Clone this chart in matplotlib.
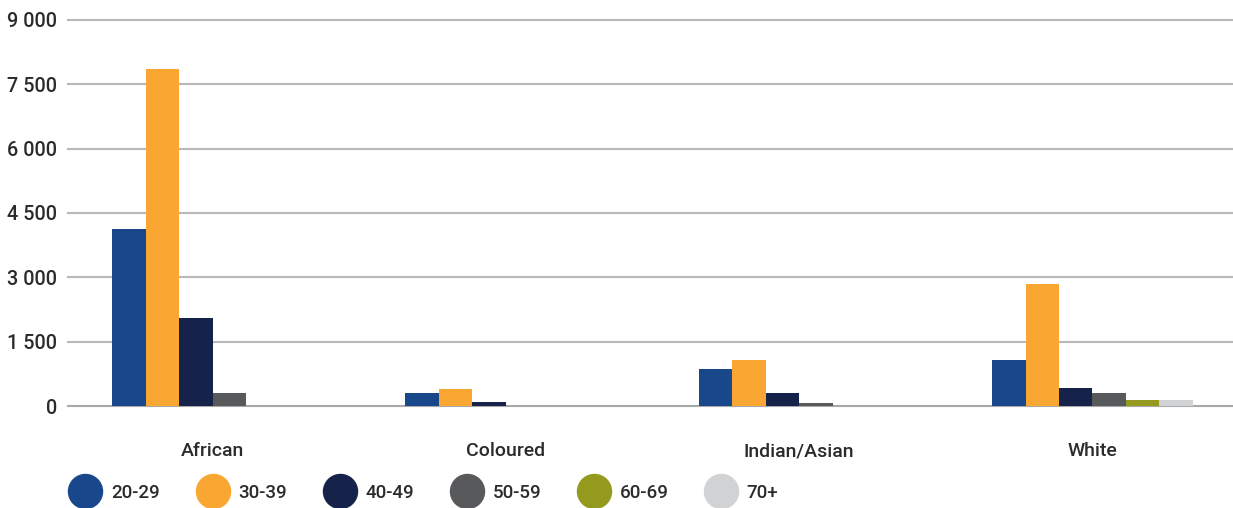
import matplotlib
matplotlib.use("Agg")
import matplotlib.pyplot as plt
from matplotlib.lines import Line2D
from matplotlib import font_manager
import numpy as np

# Data: population groups by age band
categories = ["African", "Coloured", "Indian/Asian", "White"]
age_bands = ["20-29", "30-39", "40-49", "50-59", "60-69", "70+"]
values_20_29 = [4130, 300, 860, 1070]
values_30_39 = [7860, 395, 1070, 2850]
values_40_49 = [2050, 95, 300, 420]
values_50_59 = [300, 0, 70, 300]
values_60_69 = [0, 0, 0, 140]
values_70_plus = [0, 0, 0, 140]
series = [values_20_29, values_30_39, values_40_49, values_50_59, values_60_69, values_70_plus]
colors = ["#19478c", "#f9a633", "#15234b", "#58595b", "#939a1e", "#d1d2d4"]

y_ticks = [0, 1500, 3000, 4500, 6000, 7500, 9000]
y_tick_labels = ["0", "1 500", "3 000", "4 500", "6 000", "7 500", "9 000"]

# Prefer a medium-weight sans face when one is installed
faces = [(f.name, f.weight) for f in font_manager.fontManager.ttflist]
weight = "normal"
family = "Roboto"
for name, w in faces:
    if name == "Roboto" and w in (500, "medium"):
        weight = "medium"
        break
else:
    for name, w in faces:
        if name in ("Open Sans", "Lato") and w in (600, "semibold", "demibold"):
            family, weight = name, "semibold"
            break
    else:
        weight = "bold"

plt.rcParams["font.family"] = [family, "DejaVu Sans"]
plt.rcParams["font.weight"] = weight
text_color = "#2b2b2b"

fig = plt.figure(figsize=(12.33, 5.08), dpi=100)
ax = fig.add_axes([68 / 1233, 1 - 406 / 508, 1 - 68 / 1233, (406 - 20) / 508])

x = np.arange(len(categories))
bar_w = 0.1142
for j, (vals, col) in enumerate(zip(series, colors)):
    ax.bar(x + (j - 2.5) * bar_w, vals, width=bar_w, color=col, zorder=3, linewidth=0)

ax.set_xlim(-0.4927, 3.479)
ax.set_ylim(0, 9000)
ax.set_yticks(y_ticks)
ax.set_yticklabels(y_tick_labels, fontsize=14.3, color=text_color)
ax.set_xticks(x)
ax.set_xticklabels(categories, fontsize=14, color=text_color)
ax.tick_params(axis="y", length=0, pad=8)
ax.tick_params(axis="x", length=0, pad=26)
for s in ax.spines.values():
    s.set_visible(False)
for t in y_ticks:
    ax.axhline(t, color="#a8a8a8" if t == 0 else "#b8b8b8", lw=1.5, zorder=1, clip_on=False)

handles = [Line2D([], [], linestyle="none", marker="o", markersize=24.5,
                  markerfacecolor=c, markeredgecolor=c) for c in colors]
fig.legend(handles, age_bands, loc="center left", ncol=6,
           bbox_to_anchor=(76.1 / 1233, 1 - 493 / 508), frameon=False,
           fontsize=13.5, labelcolor=text_color, handlelength=1.0,
           handletextpad=0.885, columnspacing=2.29, borderpad=0, borderaxespad=0)

fig.savefig("out.png", dpi=100)
